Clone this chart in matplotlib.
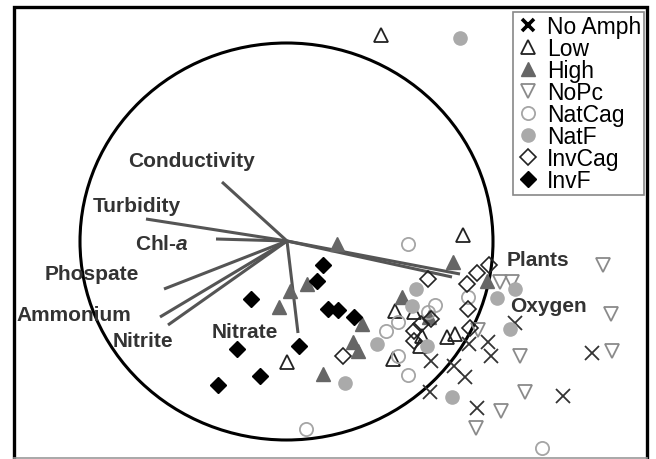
import matplotlib
matplotlib.use("Agg")
import matplotlib.pyplot as plt
from matplotlib.patches import Ellipse
from matplotlib.lines import Line2D

plt.rcParams['font.family'] = ['Liberation Sans', 'DejaVu Sans']
plt.rcParams['mathtext.fontset'] = 'custom'
plt.rcParams['mathtext.it'] = 'Liberation Sans:bold:italic'
plt.rcParams['mathtext.rm'] = 'Liberation Sans:bold'

# ordination scores (image-like units, y grows downward)
no_amph_x = [515, 488, 491, 469, 431, 454, 465, 430, 477, 592, 563]
no_amph_y = [324, 343, 357, 345, 362, 367, 378, 393, 409, 354, 397]

low_x = [381, 463, 395, 414, 422, 420, 447, 455, 393, 287]
low_y = [36, 236, 312, 313, 337, 347, 338, 335, 360, 363]

high_x = [337, 290, 307, 279, 362, 353, 358, 323, 453, 402, 429, 487]
high_y = [245, 292, 285, 308, 325, 343, 352, 375, 263, 298, 318, 282]

nopc_x = [603, 611, 612, 520, 525, 501, 476, 500, 512, 478]
nopc_y = [266, 315, 352, 357, 393, 412, 429, 283, 283, 331]

natcag_x = [408, 306, 542, 435, 428, 398, 386, 468, 398, 408]
natcag_y = [245, 430, 449, 306, 313, 323, 332, 298, 357, 376]

natf_x = [460, 416, 412, 377, 427, 345, 452, 497, 515, 510]
natf_y = [39, 290, 307, 345, 347, 384, 398, 299, 290, 330]

invcag_x = [428, 467, 477, 489, 468, 431, 421, 414, 414, 343, 470]
invcag_y = [280, 285, 274, 266, 310, 320, 325, 332, 342, 357, 329]

invf_x = [323, 317, 251, 328, 338, 354, 299, 237, 260, 218]
invf_y = [266, 282, 300, 310, 311, 318, 347, 350, 377, 386]

# environmental vectors (origin and tips) and their labels
origin = (287, 242)
vec_names = ['Conductivity', 'Turbidity', 'Chl-$a$', 'Phospate', 'Ammonium',
             'Nitrite', 'Nitrate', 'Plants', 'Oxygen']
vec_x = [222, 146, 216, 164, 160, 168, 298, 460, 452]
vec_y = [183, 220, 240, 290, 318, 326, 334, 275, 278]
lab_x = [128, 93, 135, 45, 16, 113, 212, 507, 510]
lab_y = [162, 207, 245, 275, 316, 342, 333, 261, 307]

fig = plt.figure(figsize=(6.56, 4.60), dpi=100)
ax = fig.add_axes([0, 0, 1, 1])
ax.set_xlim(0, 656)
ax.set_ylim(460, 0)
ax.axis('off')

# frame
ax.plot([14, 14, 647, 647], [459, 8, 8, 459], color='black', lw=2.4,
        solid_joinstyle='miter')
ax.plot([14, 647], [459, 459], color='#999999', lw=1.2)

# equilibrium circle
ax.add_patch(Ellipse((286.5, 242.5), 413, 397, fill=False, edgecolor='black',
                     lw=2.2, zorder=2))

for vx, vy in zip(vec_x, vec_y):
    ax.plot([origin[0], vx], [origin[1], vy], color='#555555', lw=2.2,
            solid_capstyle='butt', zorder=3)
for name, lx, ly in zip(vec_names, lab_x, lab_y):
    ax.text(lx, ly, name, fontsize=15, fontweight='bold', color='#333333',
            ha='left', va='center', zorder=6)

ms = 9.5
groups = [
    ('No Amph', no_amph_x, no_amph_y, dict(marker='x', color='#333333', mew=1.3, ms=ms)),
    ('Low', low_x, low_y, dict(marker='^', mfc='none', mec='#222222', mew=1.3, ms=ms + 1)),
    ('High', high_x, high_y, dict(marker='^', mfc='#666666', mec='#666666', mew=1, ms=ms + 1)),
    ('NoPc', nopc_x, nopc_y, dict(marker='v', mfc='none', mec='#8a8a8a', mew=1.3, ms=ms + 1)),
    ('NatCag', natcag_x, natcag_y, dict(marker='o', mfc='none', mec='#a5a5a5', mew=1.3, ms=ms)),
    ('NatF', natf_x, natf_y, dict(marker='o', mfc='#aaaaaa', mec='#aaaaaa', mew=1, ms=ms)),
    ('InvCag', invcag_x, invcag_y, dict(marker='D', mfc='none', mec='#222222', mew=1.2, ms=ms - 1)),
    ('InvF', invf_x, invf_y, dict(marker='D', mfc='black', mec='black', mew=1, ms=ms - 1)),
]

handles = []
for label, xs, ys, style in groups:
    ax.plot(xs, ys, ls='none', zorder=4, **style)
    hstyle = dict(style)
    if label == 'No Amph':
        hstyle.update(color='black', mew=2.6, ms=ms - 1)
    handles.append(Line2D([], [], ls='none', label=label, **hstyle))

leg = ax.legend(handles=handles, loc='upper right',
                bbox_to_anchor=(644 / 656, 1 - 13 / 460), fontsize=16.5,
                frameon=True, fancybox=False, framealpha=1, edgecolor='#888888',
                borderpad=0.12, labelspacing=-0.04, handletextpad=0.35,
                handlelength=1.0, borderaxespad=0)
leg.get_frame().set_linewidth(1.2)
leg.set_zorder(7)

fig.savefig('out.png', dpi=100)
